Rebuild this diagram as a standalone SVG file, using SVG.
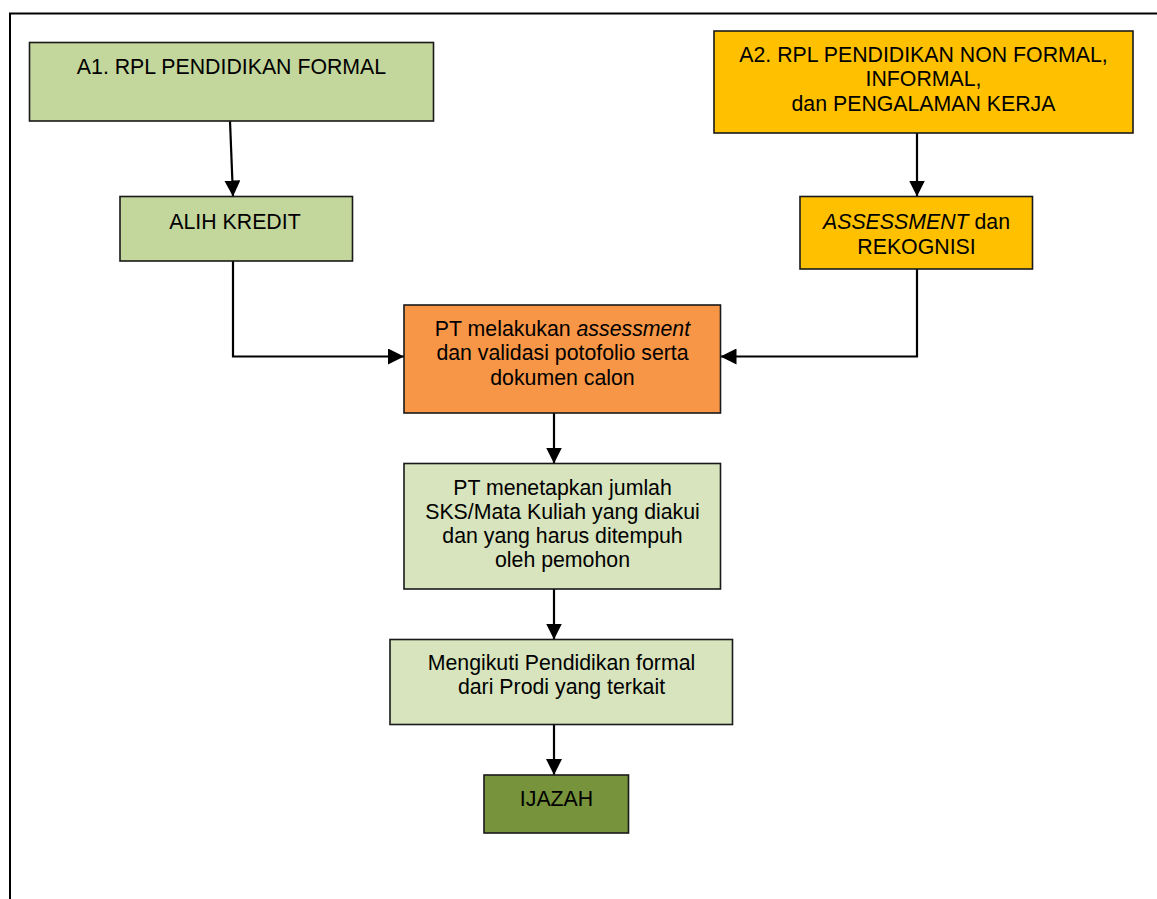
<svg xmlns="http://www.w3.org/2000/svg" width="1157" height="899" viewBox="0 0 1157 899">
  <style>
    .box { stroke: #1a1a1a; stroke-width: 1.6; }
    .lbl { font-family: "Liberation Sans", Arial, sans-serif; font-size: 21.3px; fill: #000; text-anchor: middle; }
    .it { font-style: italic; }
    .conn { fill: none; stroke: #000; stroke-width: 2.2; }
    .frame { fill: none; stroke: #000; stroke-width: 2; }
  </style>
  <defs>
    <marker id="arrow" markerUnits="userSpaceOnUse" markerWidth="16" markerHeight="16" viewBox="0 0 16 16" refX="16" refY="8" orient="auto">
      <path d="M0,0 L16,8 L0,16 Z" fill="#000"/>
    </marker>
  </defs>
  <rect width="1157" height="899" fill="#fff"/>
  <path class="frame" d="M10,899 L10,13.5 L1157,13.5"/>

  <g id="connectors">
    <line class="conn" x1="230" y1="121" x2="233" y2="196.5" marker-end="url(#arrow)"/>
    <path class="conn" d="M233,261 L233,356.5 L404,356.5" marker-end="url(#arrow)"/>
    <line class="conn" x1="917" y1="133" x2="917" y2="196.5" marker-end="url(#arrow)"/>
    <path class="conn" d="M917,269 L917,356.5 L720.5,356.5" marker-end="url(#arrow)"/>
    <line class="conn" x1="554" y1="413" x2="554" y2="463.5" marker-end="url(#arrow)"/>
    <line class="conn" x1="554" y1="589" x2="554" y2="639.5" marker-end="url(#arrow)"/>
    <line class="conn" x1="554" y1="724.5" x2="554" y2="775" marker-end="url(#arrow)"/>
  </g>

  <g id="node-a1">
    <rect class="box" x="29.5" y="42.5" width="404" height="78.5" fill="#C3D69B"/>
    <text class="lbl" x="231.5" y="74">A1. RPL PENDIDIKAN FORMAL</text>
  </g>
  <g id="node-alih-kredit">
    <rect class="box" x="120" y="196.5" width="232.5" height="64.5" fill="#C3D69B"/>
    <text class="lbl" x="235" y="228.5">ALIH KREDIT</text>
  </g>
  <g id="node-a2">
    <rect class="box" x="714" y="31" width="419" height="102" fill="#FFC000"/>
    <text class="lbl" x="923.5" y="61.5">A2. RPL PENDIDIKAN NON FORMAL,</text>
    <text class="lbl" x="923.5" y="86">INFORMAL,</text>
    <text class="lbl" x="923.5" y="110.5">dan PENGALAMAN KERJA</text>
  </g>
  <g id="node-assessment">
    <rect class="box" x="800" y="196.5" width="232.5" height="72.5" fill="#FFC000"/>
    <text class="lbl" x="916.5" y="228.5"><tspan class="it">ASSESSMENT</tspan> dan</text>
    <text class="lbl" x="916.5" y="253.5">REKOGNISI</text>
  </g>
  <g id="node-pt-assessment">
    <rect class="box" x="404" y="305" width="316.5" height="108" fill="#F79646"/>
    <text class="lbl" x="562.5" y="335.5">PT melakukan <tspan class="it">assessment</tspan></text>
    <text class="lbl" x="562.5" y="360">dan validasi potofolio serta</text>
    <text class="lbl" x="562.5" y="384.5">dokumen calon</text>
  </g>
  <g id="node-pt-sks">
    <rect class="box" x="404" y="463.5" width="316.5" height="125.5" fill="#D7E4BD"/>
    <text class="lbl" x="562.5" y="494.5">PT menetapkan jumlah</text>
    <text class="lbl" x="562.5" y="518.5">SKS/Mata Kuliah yang diakui</text>
    <text class="lbl" x="562.5" y="542.5">dan yang harus ditempuh</text>
    <text class="lbl" x="562.5" y="566.5">oleh pemohon</text>
  </g>
  <g id="node-mengikuti">
    <rect class="box" x="390" y="639.5" width="342.5" height="85" fill="#D7E4BD"/>
    <text class="lbl" x="561.5" y="669.5">Mengikuti Pendidikan formal</text>
    <text class="lbl" x="561.5" y="694">dari Prodi yang terkait</text>
  </g>
  <g id="node-ijazah">
    <rect class="box" x="484" y="775" width="144.5" height="58" fill="#77933C"/>
    <text class="lbl" x="556.5" y="806">IJAZAH</text>
  </g>
</svg>
